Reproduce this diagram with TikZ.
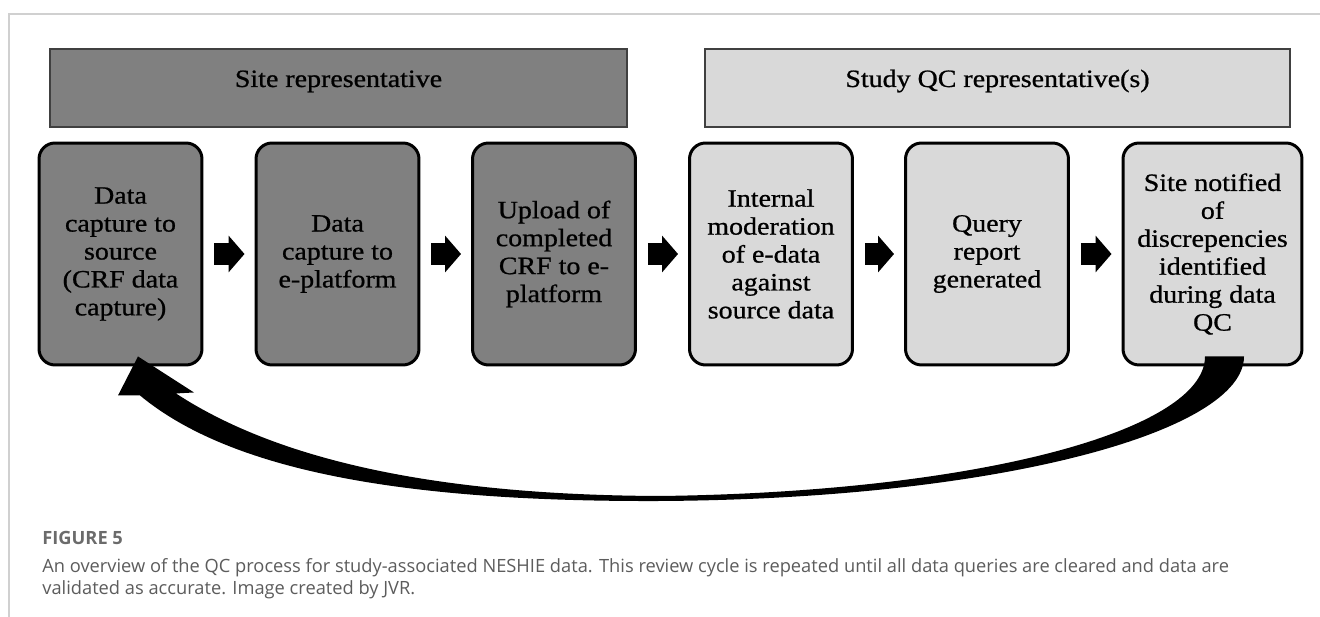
\documentclass[tikz,border=0pt]{standalone}
\usepackage{fontspec}
\setmainfont{Liberation Serif}
\newfontfamily\boxfont[FakeStretch=1.12,FakeBold=0.8]{Liberation Serif}
\newfontfamily\capfont{Open Sans}
\usetikzlibrary{arrows.meta}
\usetikzlibrary{calc}
\definecolor{sitegray}{RGB}{128,128,128}
\definecolor{qcgray}{RGB}{217,217,217}
\definecolor{framegray}{RGB}{208,208,208}
\definecolor{captiongray}{RGB}{92,92,92}
\tikzset{
  stage/.style={rectangle,rounded corners=0.32cm,draw=black,line width=0.06cm,
    minimum width=3.26cm,minimum height=4.44cm,inner sep=0pt,align=center,
    font=\boxfont\fontsize{14.2}{15.9}\selectfont},
  blockflow/.style={line width=0.44cm,-{Triangle[length=0.32cm,width=0.72cm]},
    shorten <=0.22cm,shorten >=0.2cm},
  captext/.style={anchor=base west,inner sep=0pt,text=captiongray,
    font=\capfont\fontsize{10.4}{12.5}\selectfont}
}
\begin{document}
\begin{tikzpicture}[x=0.02cm,y=-0.02cm]
\useasboundingbox (0,0) rectangle (1320,617);
\draw[framegray,line width=0.03cm] (1320,14) -- (9,14) -- (9,617);

\begin{scope}[every node/.style={rectangle,draw=black!75,line width=0.04cm,minimum height=1.56cm}]
  \node[fill=sitegray,minimum width=11.54cm] (site) at (338.5,88) {};
  \node[fill=qcgray,minimum width=11.7cm] (qc) at (997.5,88) {};
\end{scope}
\begin{scope}[every node/.style={anchor=base,inner sep=0pt,font=\boxfont\fontsize{14.2}{15.9}\selectfont}]
  \node (sitetext) at (338.5,87) {Site representative};
  \node (qctext) at (997.5,87) {Study QC representative(s)};
\end{scope}

\begin{scope}[every node/.style={stage}]
  \node[fill=sitegray] (b1) at (120.5,254) {Data\\capture to\\source\\(CRF data\\capture)};
  \node[fill=sitegray] (b2) at (337.5,254) {Data\\capture to\\e-platform};
  \node[fill=sitegray] (b3) at (554,254) {Upload of\\completed\\CRF to e-\\platform};
  \node[fill=qcgray] (b4) at (771,254) {Internal\\moderation\\of e-data\\against\\source data};
  \node[fill=qcgray] (b5) at (987,254) {Query\\report\\generated};
  \node[fill=qcgray,minimum width=3.58cm] (b6) at (1212.5,254) {Site notified\\of\\discrepencies\\identified\\during data\\QC};
\end{scope}

\begin{scope}[every edge/.style={draw=black,blockflow}]
  \path (b1) edge (b2);
  \path (b2) edge (b3);
  \path (b3) edge (b4);
  \path (b4) edge (b5);
  \path (b5) edge (b6);
\end{scope}

% feedback loop
\fill ($(b6.south)+(31.5,-10)$) .. controls ($(b6.south)+(31.5,65)$) and (1000,499) .. (660,501)
  .. controls (400,502) and (230,470) .. ($(b1.south)+(19.5,29)$)
  -- ($(b1.south)+(-2.5,29)$) -- ($(b1.south)+(17.5,-10)$) -- ($(b1.south)+(73.5,26)$)
  -- ($(b1.south)+(55.5,27)$) .. controls (270,455) and (420,495) .. (660,496)
  .. controls (980,492) and (1205,430) .. ($(b6.south)+(-7.5,-10)$) -- cycle;

\node[captext,font=\capfont\bfseries\fontsize{10.4}{12.5}\selectfont,text=black!58] (fig) at (42,545) {FIGURE 5};
\node[captext] (cap1) at (42,573) {An overview of the QC process for study-associated NESHIE data. This review cycle is repeated until all data queries are cleared and data are};
\node[captext] (cap2) at (42,595) {validated as accurate. Image created by JVR.};
\end{tikzpicture}
\end{document}
